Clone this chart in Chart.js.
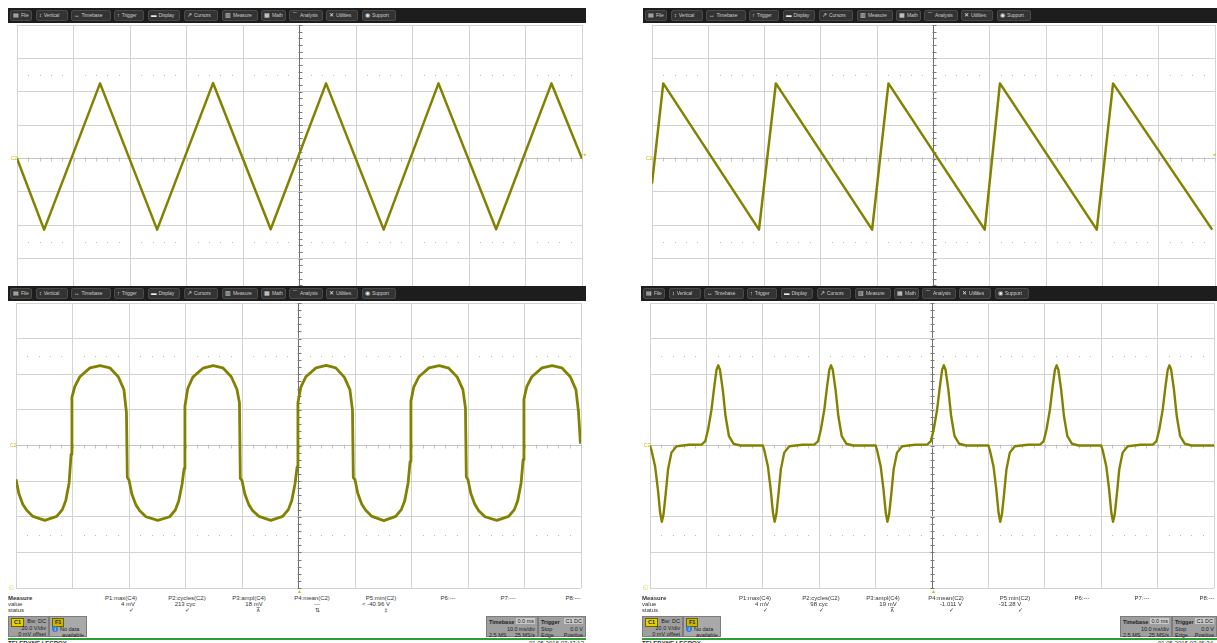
<!DOCTYPE html>
<html><head><meta charset="utf-8">
<script src="https://cdn.jsdelivr.net/npm/chart.js@4.4.1/dist/chart.umd.min.js"></script>
<style>
html,body{margin:0;padding:0;background:#fff;}
body{width:1217px;height:643px;position:relative;overflow:hidden;font-family:"Liberation Sans",Arial,sans-serif;}
canvas.scope{position:absolute;}
.menubar{position:absolute;height:15px;background:#1d1d1d;z-index:5;}
.btn{position:absolute;top:2px;height:11px;background:#333;border:1px solid #4a4a4a;border-radius:2px;box-sizing:border-box;color:#c8c8c8;font-size:5px;line-height:9px;white-space:nowrap;padding-left:2px;overflow:hidden;letter-spacing:-0.1px;}
.btn b{font-weight:normal;color:#e8e8e8;margin-right:2px;font-size:5.5px;}
.mt{position:absolute;font-size:6px;line-height:6px;color:#333;white-space:nowrap;z-index:4;}
.box{position:absolute;top:616px;height:21px;background:#9f9f9f;border:1px solid #7c7c7c;box-sizing:border-box;font-size:5.5px;line-height:6px;color:#222;z-index:4;}
.tag{position:absolute;left:2px;top:1px;padding:0 2px;height:7px;line-height:7px;font-size:5.5px;font-weight:bold;color:#222;border:1px solid #6d6300;}
.r{position:absolute;right:2px;}
.l{position:absolute;left:2px;}
.mark{position:absolute;font-size:5px;line-height:5px;color:#c9bd00;z-index:4;}
.green{position:absolute;top:638px;height:2px;background:#2e9e32;z-index:4;}
.foot{position:absolute;top:640px;font-size:6px;line-height:6px;color:#333;z-index:4;}
</style></head>
<body>
<canvas class="scope" id="tl" width="566" height="268" style="left:17px;top:25px"></canvas>
<canvas class="scope" id="tr" width="564" height="268" style="left:652px;top:25px"></canvas>
<canvas class="scope" id="bl" width="566" height="286" style="left:16px;top:303px"></canvas>
<canvas class="scope" id="br" width="565" height="286" style="left:650px;top:303px"></canvas>
<div id="chrome"></div>
<script>
// ---------- data (time in divisions, voltage in divisions) ----------
const triTime  = [0, 0.48, 1.47, 2.48, 3.47, 4.49, 5.47, 6.49, 7.46, 8.48, 9.46, 10];
const triVolts = [0, -2.13, 2.25, -2.13, 2.26, -2.12, 2.25, -2.13, 2.25, -2.12, 2.25, 0.0];

const sawTime  = [0, 0.2, 1.9, 2.2, 3.91, 4.2, 5.91, 6.18, 7.9, 8.19, 9.95];
const sawVolts = [-0.75, 2.25, -2.13, 2.25, -2.13, 2.25, -2.13, 2.25, -2.13, 2.25, -2.13];

const sqTime = [
 0.00,0.05,0.12,0.19,0.30,0.51,0.72,0.82,0.88,0.94,0.975,0.99,1.04,1.13,1.31,1.49,1.66,1.81,1.91,1.955,1.97,
 2.00,2.05,2.12,2.19,2.30,2.51,2.72,2.82,2.88,2.94,2.975,2.99,3.04,3.13,3.31,3.49,3.66,3.81,3.91,3.955,3.97,
 4.00,4.05,4.12,4.19,4.30,4.51,4.72,4.82,4.88,4.94,4.975,4.99,5.04,5.13,5.31,5.49,5.66,5.81,5.91,5.955,5.97,
 6.00,6.05,6.12,6.19,6.30,6.51,6.72,6.82,6.88,6.94,6.975,6.99,7.04,7.13,7.31,7.49,7.66,7.81,7.91,7.955,7.97,
 8.00,8.05,8.12,8.19,8.30,8.51,8.72,8.82,8.88,8.94,8.975,8.99,9.04,9.13,9.31,9.49,9.66,9.81,9.91,9.955,9.99
];
const sqVolts = [
 -0.95,-1.35,-1.65,-1.82,-1.99,-2.10,-1.99,-1.80,-1.55,-1.05,-0.25,1.35,1.65,1.93,2.18,2.24,2.18,1.93,1.57,0.92,-0.90,
 -0.97,-1.36,-1.66,-1.83,-2.00,-2.10,-2.00,-1.81,-1.56,-1.08,-0.65,1.10,1.60,1.92,2.17,2.24,2.18,1.93,1.58,1.20,-0.92,
 -0.98,-1.36,-1.66,-1.83,-1.99,-2.10,-1.99,-1.80,-1.55,-1.06,-0.60,1.20,1.63,1.93,2.18,2.25,2.18,1.92,1.57,1.00,-0.90,
 -0.96,-1.35,-1.65,-1.82,-1.99,-2.11,-1.99,-1.80,-1.55,-1.05,-0.45,1.25,1.64,1.93,2.18,2.24,2.17,1.92,1.57,1.05,-0.88,
 -0.96,-1.35,-1.65,-1.83,-2.00,-2.10,-1.99,-1.80,-1.55,-1.05,-0.40,1.30,1.65,1.93,2.18,2.24,2.18,1.93,1.57,0.95,0.05
];

const pulseTime = [
 0.00,0.03,0.09,0.14,0.18,0.21,0.24,0.28,0.32,0.38,0.47,0.70,0.92,0.98,1.03,1.09,1.14,1.18,1.21,1.24,1.29,1.34,1.40,1.48,1.60,1.80,
 2.00,2.03,2.09,2.14,2.18,2.21,2.24,2.28,2.32,2.38,2.47,2.70,2.92,2.98,3.03,3.09,3.14,3.18,3.21,3.24,3.29,3.34,3.40,3.48,3.60,3.80,
 4.00,4.03,4.09,4.14,4.18,4.21,4.24,4.28,4.32,4.38,4.47,4.70,4.92,4.98,5.03,5.09,5.14,5.18,5.21,5.24,5.29,5.34,5.40,5.48,5.60,5.80,
 6.00,6.03,6.09,6.14,6.18,6.21,6.24,6.28,6.32,6.38,6.47,6.70,6.92,6.98,7.03,7.09,7.14,7.18,7.21,7.24,7.29,7.34,7.40,7.48,7.60,7.80,
 8.00,8.03,8.09,8.14,8.18,8.21,8.24,8.28,8.32,8.38,8.47,8.70,8.92,8.98,9.03,9.09,9.14,9.18,9.21,9.24,9.29,9.34,9.40,9.48,9.60,9.80,10.0
];
const pulseVolts = [
 0.00,-0.16,-0.58,-1.23,-1.89,-2.14,-1.93,-1.33,-0.67,-0.20,-0.02,0.02,0.03,0.12,0.45,1.00,1.66,2.13,2.25,2.13,1.57,0.82,0.26,0.05,0.00,0.00,
 0.00,-0.16,-0.58,-1.23,-1.89,-2.14,-1.93,-1.33,-0.67,-0.20,-0.02,0.02,0.03,0.12,0.45,1.00,1.66,2.13,2.25,2.13,1.57,0.82,0.26,0.05,0.00,0.00,
 0.00,-0.16,-0.58,-1.23,-1.89,-2.14,-1.93,-1.33,-0.67,-0.20,-0.02,0.02,0.03,0.12,0.45,1.00,1.66,2.13,2.25,2.13,1.57,0.82,0.26,0.05,0.00,0.00,
 0.00,-0.16,-0.58,-1.23,-1.89,-2.14,-1.93,-1.33,-0.67,-0.20,-0.02,0.02,0.03,0.12,0.45,1.00,1.66,2.13,2.25,2.13,1.57,0.82,0.26,0.05,0.00,0.00,
 0.00,-0.16,-0.58,-1.23,-1.89,-2.14,-1.93,-1.33,-0.67,-0.20,-0.02,0.02,0.03,0.12,0.45,1.00,1.66,2.13,2.25,2.13,1.57,0.82,0.26,0.05,0.00,0.00,0.00
];

// measurement table texts
const measHeaders = ['P1:max(C4)','P2:cycles(C2)','P3:ampl(C4)','P4:mean(C2)','P5:min(C2)','P6:---','P7:---','P8:---'];
const leftValues  = ['4 mV','213 cyc','18 mV','---','< -40.96 V'];
const leftStatus  = ['✓','✓','⊼','⇅','‡'];
const rightValues = ['4 mV','98 cyc','19 mV','-1.011 V','-31.28 V'];
const rightStatus = ['✓','✓','⊼','✓','✓'];
const menuItems = ['File','Vertical','Timebase','Trigger','Display','Cursors','Measure','Math','Analysis','Utilities','Support'];

// ---------- chart drawing ----------
const TRACE = '#828200';
const decor = {
  id:'decor',
  beforeDatasetsDraw(chart){
    const {ctx, scales:{x, y}} = chart;
    const cx = Math.round(x.getPixelForValue(5)) + 0.5;
    const cy = Math.round(y.getPixelForValue(0)) + 0.5;
    ctx.save();
    ctx.strokeStyle = '#c2c2c2'; ctx.lineWidth = 1;
    for (let i = 0; i <= 50; i++) {
      const px = Math.round(x.getPixelForValue(i/5)) + 0.5;
      ctx.beginPath(); ctx.moveTo(px, cy-2); ctx.lineTo(px, cy+2); ctx.stroke();
    }
    ctx.strokeStyle = '#7a7a7a';
    for (let i = -20; i <= 20; i++) {
      const py = Math.round(y.getPixelForValue(i/5)) + 0.5;
      ctx.beginPath(); ctx.moveTo(cx-2, py); ctx.lineTo(cx+2, py); ctx.stroke();
    }
    ctx.fillStyle = '#bcbcbc';
    [2.5, -2.5].forEach(row => {
      const py = Math.round(y.getPixelForValue(row));
      for (let i = 1; i < 50; i++) {
        if (i % 5 === 0) continue;
        ctx.fillRect(Math.round(x.getPixelForValue(i/5)), py, 1, 1);
      }
    });
    ctx.restore();
  }
};

function scope(id, times, volts, width){
  const pts = times.map((t, i) => ({x: t, y: volts[i]}));
  new Chart(document.getElementById(id), {
    type: 'line',
    data: {datasets: [{data: pts, borderColor: TRACE, borderWidth: width, pointRadius: 0, tension: 0, fill: false, borderJoinStyle: 'round'}]},
    options: {
      responsive: false, animation: false,
      layout: {padding: {left: 0, top: 0, right: 1, bottom: 1}},
      plugins: {legend: {display: false}, tooltip: {enabled: false}},
      scales: {
        x: {type: 'linear', min: 0, max: 10, ticks: {display: false, stepSize: 1},
            grid: {drawTicks: false, color: c => c.tick.value === 5 ? '#707070' : '#d3d3d3', lineWidth: 1},
            border: {display: false}},
        y: {type: 'linear', min: -4, max: 4, ticks: {display: false, stepSize: 1},
            grid: {drawTicks: false, color: c => c.tick.value === 0 ? '#c4c4c4' : '#d3d3d3', lineWidth: 1},
            border: {display: false}}
      }
    },
    plugins: [decor]
  });
}
scope('tl', triTime, triVolts, 2.5);
scope('tr', sawTime, sawVolts, 2.5);
scope('bl', sqTime, sqVolts, 2.8);
scope('br', pulseTime, pulseVolts, 2.4);

// ---------- instrument chrome (HTML text) ----------
const icons = ['▤','↕','↔','↑','▬','↗','▥','▦','⌒','✕','◉'];
const btnPos = [[2,22],[28,32],[63,40],[106,30],[140,32],[176,34],[214,36],[253,25],[281,34],[318,32],[354,34]];
let html = '';
function menubar(left, top, width){
  html += `<div class="menubar" style="left:${left}px;top:${top}px;width:${width}px">`;
  menuItems.forEach((m, i) => {
    html += `<div class="btn" style="left:${btnPos[i][0]}px;width:${btnPos[i][1]}px"><b>${icons[i]}</b>${m}</div>`;
  });
  html += '</div>';
}
menubar(8, 8, 578); menubar(643, 8, 574); menubar(8, 286, 578); menubar(641, 286, 576);

const hc = [121,187,249,312,381,448,508,573];
const vc = [128,185,254,317,376];
const sc = [131,187,258,317,386];
function bottom(ox, values, status, date){
  html += `<div class="mt" style="left:${8+ox}px;top:595px;font-weight:bold">Measure</div>`;
  html += `<div class="mt" style="left:${8+ox}px;top:601px">value</div>`;
  html += `<div class="mt" style="left:${8+ox}px;top:607px">status</div>`;
  measHeaders.forEach((h, i) => html += `<div class="mt" style="left:${hc[i]+ox-30}px;width:60px;text-align:center;top:595px">${h}</div>`);
  values.forEach((v, i) => html += `<div class="mt" style="left:${vc[i]+ox-30}px;width:60px;text-align:center;top:601px">${v}</div>`);
  status.forEach((s, i) => html += `<div class="mt" style="left:${sc[i]+ox-30}px;width:60px;text-align:center;top:607px">${s}</div>`);
  html += `<div class="box" style="left:${8+ox}px;width:41px"><span class="tag" style="background:#e3d100">C1</span><span class="r" style="top:1px">Bw: DC</span><span class="r" style="top:8px">20.0 V/div</span><span class="r" style="top:14px">0 mV offset</span></div>`;
  html += `<div class="box" style="left:${49+ox}px;width:38px;background:#a9a9a9"><span class="tag" style="background:#c8b600">F1</span><span style="position:absolute;left:2px;top:9px;width:6px;height:6px;border-radius:50%;background:#2f7fd8;color:#fff;font-size:5px;line-height:6px;text-align:center">i</span><span class="l" style="left:10px;top:9px">No data</span><span class="l" style="left:12px;top:15px">available</span></div>`;
  html += `<div class="box" style="left:${486+ox}px;width:52px"><span class="l" style="top:2px;font-weight:bold">Timebase</span><span class="r" style="top:1px;background:#c9c9c9;padding:0 1px">0.0 ms</span><span class="r" style="top:9px">10.0 ms/div</span><span class="l" style="top:15px">2.5 MS</span><span class="r" style="top:15px">25 MS/s</span></div>`;
  html += `<div class="box" style="left:${538+ox}px;width:${ox ? 45 : 48}px"><span class="l" style="top:2px;font-weight:bold">Trigger</span><span class="r" style="top:1px;background:#c9c9c9;padding:0 1px">C1 DC</span><span class="l" style="top:9px">Stop</span><span class="r" style="top:9px">0.0 V</span><span class="l" style="top:15px">Edge</span><span class="r" style="top:15px">Positive</span></div>`;
  html += `<div class="green" style="left:${8+ox}px;width:${ox ? 575 : 578}px"></div>`;
  html += `<div class="foot" style="left:${8+ox}px;font-weight:bold">TELEDYNE LECROY</div>`;
  html += `<div class="foot" style="left:${486+ox}px;width:${ox ? 93 : 98}px;text-align:right">${date}</div>`;
  html += `<div class="mark" style="left:${9+ox}px;top:585px">◱</div>`;
  html += `<div class="mark" style="left:${297+ox}px;top:589px">▲</div>`;
  html += `<div class="mark" style="left:${10+ox}px;top:443px">C2</div>`;
}
bottom(0, leftValues, leftStatus, '01.05.2015 07:43:13');
bottom(634, rightValues, rightStatus, '01.05.2015 07:45:34');
html += `<div class="mark" style="left:11px;top:156px">C2</div>`;
html += `<div class="mark" style="left:646px;top:156px">C2</div>`;
html += `<div class="mark" style="left:583px;top:152px">◂</div>`;
html += `<div class="mark" style="left:1213px;top:152px">◂</div>`;
document.getElementById('chrome').innerHTML = html;
</script>
</body></html>
